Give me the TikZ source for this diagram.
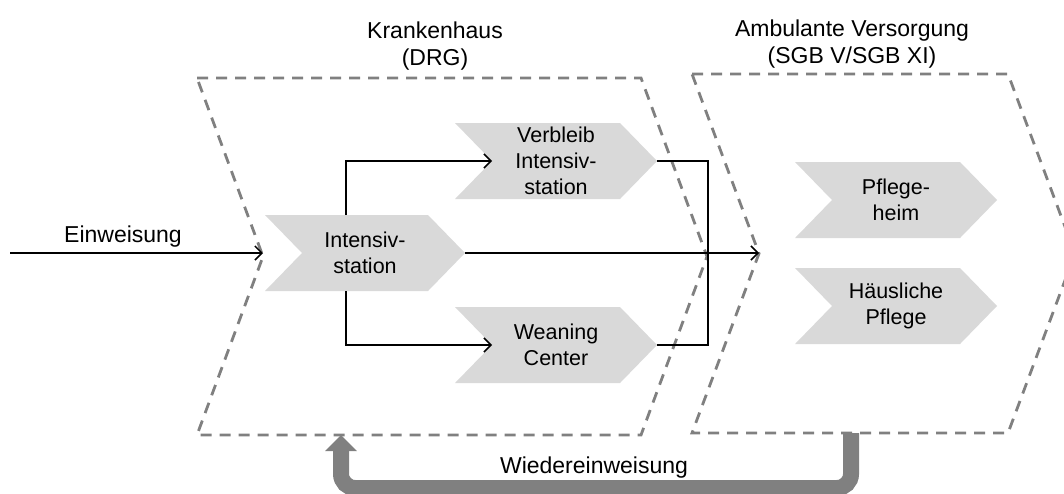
\documentclass[tikz,border=0pt]{standalone}
\usepackage{fontspec}
\setmainfont{Liberation Sans}
\usetikzlibrary{arrows.meta,calc,backgrounds}

\definecolor{zonegray}{HTML}{808080}
\definecolor{chevfill}{HTML}{D9D9D9}
\definecolor{loopgray}{HTML}{808080}

% outline of a chevron built on a rectangular node: notch on the left, point on the right
\newcommand\ChevOutline[2]{%
  (#1.north west) -- ($(#1.north east)+(-#2,0)$) -- (#1.east) --
  ($(#1.south east)+(-#2,0)$) -- (#1.south west) -- ($(#1.west)+(#2,0)$) -- cycle}

\tikzset{
  zonebox/.style={inner sep=0pt, outer sep=0pt},
  zoneline/.style={draw=zonegray, line width=2.8pt, dash pattern=on 11pt off 8pt},
  stepbox/.style={inner sep=0pt, outer sep=0pt, minimum width=202pt, minimum height=76pt,
    align=center, font=\fontsize{21.5}{26}\selectfont},
  stepfill/.style={fill=chevfill, draw=none},
  lbl/.style={inner sep=0pt, align=center, font=\fontsize{23}{27}\selectfont},
  conn/.style={draw=black, line width=1.5pt},
  tip/.style={-{Straight Barb[length=7pt,width=14pt,line width=1.5pt]}},
  backloop/.style={draw=loopgray, line width=16pt, rounded corners=14pt,
    -{Triangle[length=16pt,width=31pt]}}
}

\begin{document}
\begin{tikzpicture}[x=1pt,y=-1pt]
\useasboundingbox (0,0) rectangle (1064,493);

% care sectors
\node[zonebox, minimum width=510pt, minimum height=357pt] (kh) at (452,256.5) {};
\node[zonebox, minimum width=383pt, minimum height=359pt] (amb) at (883.5,253.5) {};

% sector titles (anchored at the baseline of their second line)
\node[lbl, anchor=base] (khlbl) at (435,65) {Krankenhaus\\(DRG)};
\node[lbl, anchor=base] (amblbl) at (852,63) {Ambulante Versorgung\\(SGB V/SGB XI)};

% treatment steps
\node[stepbox, minimum width=200pt] (int) at (365,253) {Intensiv-\\station};
\node[stepbox] (verb) at (556,161) {Verbleib\\Intensiv-\\station};
\node[stepbox] (wean) at (556,345) {Weaning\\Center};
\node[stepbox] (heim) at (896,200) {Pflege-\\heim};
\node[stepbox] (haus) at (896,306) {Häusliche\\Pflege};

\begin{scope}[on background layer]
  \draw[zoneline] \ChevOutline{kh}{66};
  \draw[zoneline] \ChevOutline{amb}{67};
  \fill[stepfill] \ChevOutline{int}{37};
  \fill[stepfill] \ChevOutline{verb}{37};
  \fill[stepfill] \ChevOutline{wean}{37};
  \fill[stepfill] \ChevOutline{heim}{37};
  \fill[stepfill] \ChevOutline{haus}{37};
\end{scope}

% entry points of the sectors and step chevrons
\coordinate (khin) at ($(kh.west)+(66,0)$);
\coordinate (ambin) at ($(amb.west)+(67,0)$);
\coordinate (verbin) at ($(verb.west)+(37,0)$);
\coordinate (weanin) at ($(wean.west)+(37,0)$);
\coordinate (ein) at (10,253);
\coordinate (join) at (708,253);

% admission
\node[lbl, anchor=base] (einlbl) at (123,242) {Einweisung};
\draw[conn,tip] (ein) -- (ein -| khin);

% flows inside the hospital
\draw[conn,tip] ([xshift=-19pt]int.north) |- (verbin);
\draw[conn,tip] ([xshift=-19pt]int.south) |- (weanin);
\draw[conn] (verb.east) -| (join) |- (wean.east);
\draw[conn,tip] (int.east) -- (int.east -| ambin);

% readmission loop
\draw[backloop] ([xshift=-32.5pt]amb.south) -- ++(0,55) -| ([xshift=-111pt]kh.south);
\node[lbl, anchor=base] (relbl) at (594,473) {Wiedereinweisung};
\end{tikzpicture}
\end{document}
